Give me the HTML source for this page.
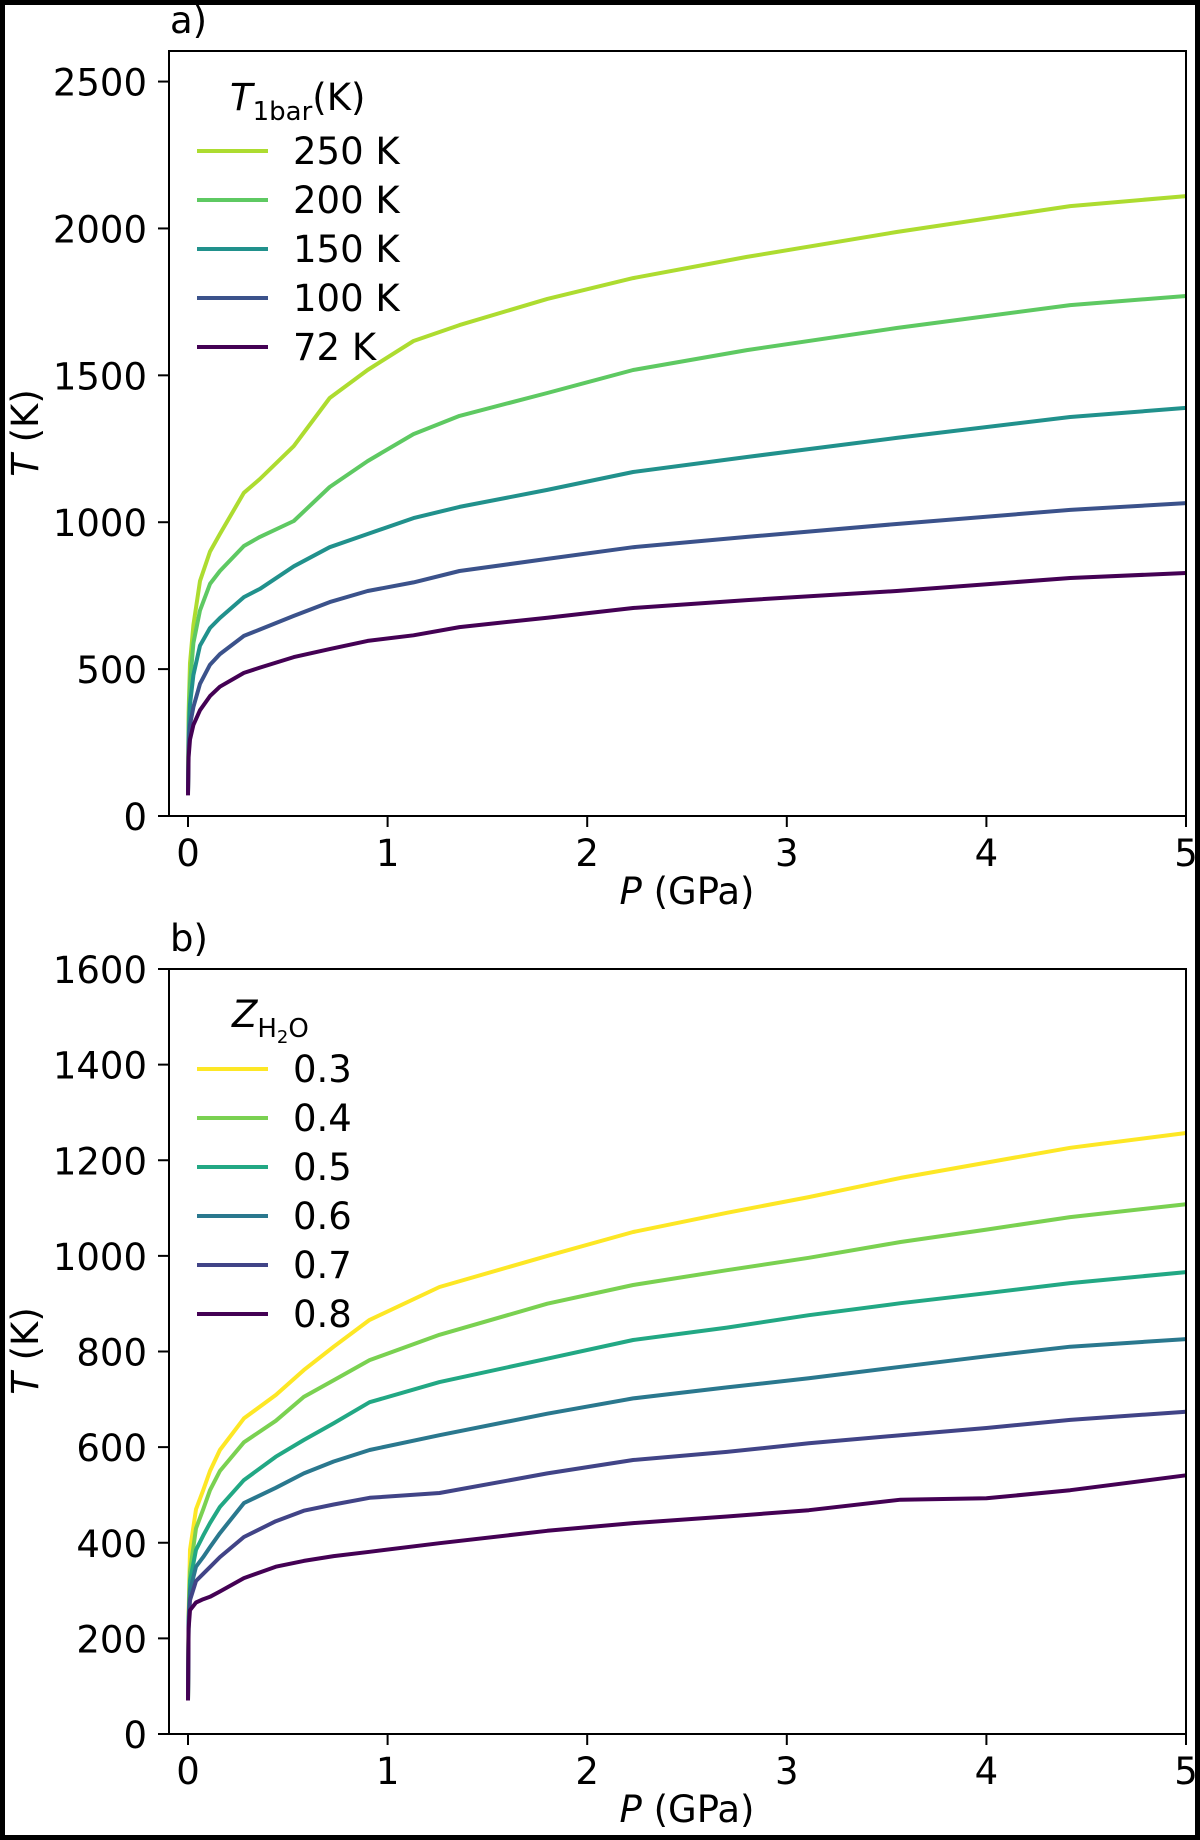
<!DOCTYPE html>
<html><head><meta charset="utf-8"><style>
html,body{margin:0;padding:0;background:#fff}
svg{display:block}
text{font-family:"DejaVu Sans","Liberation Sans",sans-serif;fill:#000}
</style></head><body>
<svg id="chart" width="1200" height="1840" viewBox="0 0 1200 1840">
<rect x="2.5" y="2.5" width="1195" height="1835" fill="#fff" stroke="#000" stroke-width="5"/>
</svg>
<script>
const pA = [0,0.003,0.01,0.027,0.06,0.11,0.16,0.28,0.36,0.53,0.71,0.9,1.13,1.36,1.8,2.23,2.8,3.55,4.42,5];
const tA250 = [80,350,520,650,800,900,960,1100,1147,1259,1423,1518,1617,1671,1760,1831,1903,1988,2076,2110];
const tA200 = [80,300,450,589,700,790,834,919,950,1004,1120,1208,1300,1362,1440,1518,1586,1661,1739,1770];
const tA150 = [80,260,380,480,580,640,674,745,773,850,915,960,1014,1052,1110,1171,1222,1287,1358,1389];
const tA100 = [80,230,310,371,450,515,551,613,635,681,728,766,795,834,875,915,950,994,1042,1065];
const tA72 = [70,200,260,310,360,408,440,487,505,541,568,596,615,643,675,708,735,766,810,827];
const labelsA = ["250 K","200 K","150 K","100 K","72 K"];
const yTicksA = [0,500,1000,1500,2000,2500];

const pB = [0,0.003,0.01,0.04,0.076,0.11,0.16,0.28,0.44,0.58,0.73,0.91,1.26,1.8,2.23,2.7,3.11,3.57,4.0,4.42,5];
const tB03 = [70,250,385,470,510,550,594,660,709,761,810,866,935,1000,1050,1090,1123,1163,1195,1226,1257];
const tB04 = [70,240,340,430,470,510,550,610,655,705,740,782,835,900,939,970,996,1029,1055,1081,1108];
const tB05 = [70,235,320,385,415,441,475,531,580,615,650,694,736,785,824,850,876,901,922,943,966];
const tB06 = [70,230,300,350,370,391,420,483,515,545,570,594,625,670,702,725,744,768,790,810,826];
const tB07 = [70,225,280,320,335,349,370,412,445,467,480,494,504,545,573,590,608,625,640,657,674];
const tB08 = [70,220,259,275,282,287,298,326,350,362,372,381,399,425,441,455,468,490,493,510,541];
const labelsB = ["0.3","0.4","0.5","0.6","0.7","0.8"];
const yTicksB = [0,200,400,600,800,1000,1200,1400,1600];
const xTicks = [0,1,2,3,4,5];

const NS="http://www.w3.org/2000/svg";
const svg=document.getElementById('chart');
function mk(tag,attrs,parent){const e=document.createElementNS(NS,tag);for(const k in attrs)e.setAttribute(k,attrs[k]);(parent||svg).appendChild(e);return e;}

function panel(cfg){
  const g=mk('g',{});
  
  
  const L=169,R=1186,T=cfg.top,B=cfg.bottom;
  const xs=p=>188+p*199.6;
  const ys=v=>B-(v-0)/cfg.ymax*(B-T);
  cfg.series.forEach((s,i)=>{
    const d=s.vals.map((v,j)=>(j?'L':'M')+xs(cfg.p[j]).toFixed(1)+' '+ys(v).toFixed(1)).join(' ');
    const path=mk('path',{d:d,fill:'none',stroke:s.color,'stroke-width':4,'stroke-linejoin':'round','stroke-linecap':'butt'},g);
    
    
  });
  const fr=mk('rect',{x:L,y:T,width:R-L,height:B-T,fill:'none',stroke:'#000','stroke-width':2},g);
  
  
  cfg.yticks.forEach(v=>{
    const y=ys(v);
    const t=mk('line',{x1:158,x2:L,y1:y,y2:y,stroke:'#000','stroke-width':2},g);
    
    
    const tx=mk('text',{x:147,y:y+14,'font-size':37,'text-anchor':'end'},g);
    tx.textContent=v;
    
    
  });
  xTicks.forEach(v=>{
    const x=xs(v);
    const t=mk('line',{x1:x,x2:x,y1:B,y2:B+11,stroke:'#000','stroke-width':2},g);
    
    
    const tx=mk('text',{x:x,y:B+50,'font-size':37,'text-anchor':'middle'},g);
    tx.textContent=v;
    
    
  });
  cfg.series.forEach((s,i)=>{
    const y=cfg.legY+i*49;
    const l=mk('line',{x1:197,x2:268,y1:y,y2:y,stroke:s.color,'stroke-width':4},g);
    
    
    const tx=mk('text',{x:293,y:y+13,'font-size':37},g);
    tx.textContent=s.label;
    
    
  });
}

const cA=["#addc30","#5ec962","#21918c","#3b528b","#440154"];
const sA=[tA250,tA200,tA150,tA100,tA72];
panel({name:'panel-a',top:51,bottom:816,ymax:2604,p:pA,yticks:yTicksA,legY:151,
  series:sA.map((v,i)=>({vals:v,color:cA[i],label:labelsA[i],key:'a'+i}))});
const cB=["#fde725","#7ad151","#22a884","#2a788e","#414487","#440154"];
const sB=[tB03,tB04,tB05,tB06,tB07,tB08];
panel({name:'panel-b',top:969,bottom:1734,ymax:1600,p:pB,yticks:yTicksB,legY:1069,
  series:sB.map((v,i)=>({vals:v,color:cB[i],label:labelsB[i],key:'b'+i}))});
</script>
<svg style="position:absolute;left:0;top:0" width="1200" height="1840">
<text x="170" y="33" font-size="37">a)</text>
<text x="170" y="951" font-size="37">b)</text>
<text x="230" y="110" font-size="37"><tspan font-style="italic">T</tspan><tspan font-size="26" dy="10">1bar</tspan><tspan dy="-10">(K)</tspan></text>
<text x="232" y="1027" font-size="37"><tspan font-style="italic">Z</tspan><tspan font-size="26" dy="10">H</tspan><tspan font-size="18" dy="6">2</tspan><tspan font-size="26" dy="-6">O</tspan></text>
<text x="687" y="904" font-size="37" text-anchor="middle"><tspan font-style="italic">P</tspan> (GPa)</text>
<text x="687" y="1822" font-size="37" text-anchor="middle"><tspan font-style="italic">P</tspan> (GPa)</text>
<text transform="translate(38,433) rotate(-90)" font-size="37" text-anchor="middle"><tspan font-style="italic">T</tspan> (K)</text>
<text transform="translate(38,1351) rotate(-90)" font-size="37" text-anchor="middle"><tspan font-style="italic">T</tspan> (K)</text>
</svg>
</body></html>
